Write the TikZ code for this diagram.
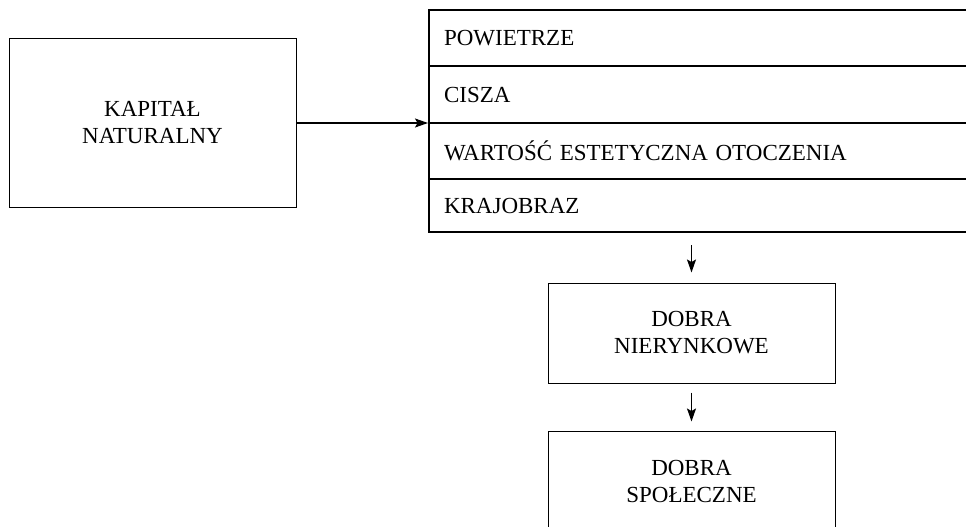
\documentclass[tikz,border=0pt]{standalone}
\usepackage{fontspec}
\setmainfont{Liberation Serif}
\usetikzlibrary{arrows.meta}
\tikzstyle{block}=[draw=black,line width=1pt,minimum width=287pt,minimum height=100pt,align=center,inner sep=0pt,font=\fontsize{23}{27}\selectfont]
\tikzstyle{row}=[draw=black,line width=2pt,minimum width=600pt,text width=570pt,inner xsep=15pt,align=left,anchor=west,font=\fontsize{23}{27}\selectfont]
\tikzstyle{link}=[draw,line width=1.2pt,-{Stealth[length=13pt,width=9pt,inset=2.5pt]}]

\begin{document}
\begin{tikzpicture}[x=1pt,y=-1pt]
  \useasboundingbox (0,0) rectangle (966,527);

  % left box
  \node[block, minimum height=168pt] (kn) at (152.5,123) {KAPITAŁ\\NATURALNY};

  % the list of goods, open to the right
  \foreach \ypos/\hgt/\name/\label in {
    38/56/r1/POWIETRZE,
    94.5/57/r2/CISZA,
    151/56/r3/{WARTOŚĆ ESTETYCZNA OTOCZENIA},
    205.5/53/r4/KRAJOBRAZ}
    \node[row, minimum height=\hgt pt] (\name) at (428,\ypos) {\label};

  % goods below
  \node[block] (dn) at (691.5,333) {DOBRA\\NIERYNKOWE};
  \node[block] (ds) at (691.5,481) {DOBRA\\SPOŁECZNE};

  % arrows
  \path[link] (kn.east) -- (kn.east -| r3.north west);
  \path[link, shorten <=12pt, shorten >=10pt] (r4.south -| dn.north) -- (dn.north);
  \path[link, shorten <=9pt, shorten >=9pt] (dn.south) -- (ds.north);
\end{tikzpicture}
\end{document}
